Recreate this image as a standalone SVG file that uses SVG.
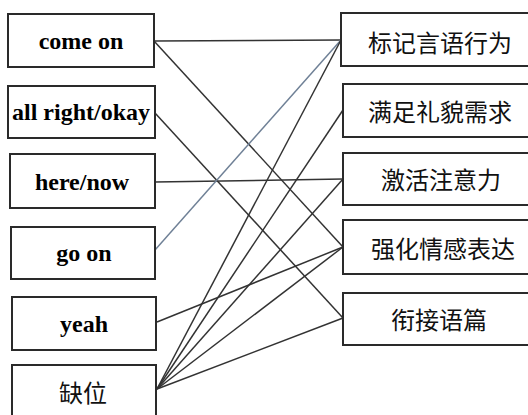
<svg xmlns="http://www.w3.org/2000/svg" width="528" height="415" viewBox="0 0 528 415">
<style>
rect{fill:#fff;stroke:#2a2a2a;stroke-width:2}
.en{font-family:"Liberation Serif","Times New Roman",serif;font-weight:bold;font-size:24px;fill:#000;text-anchor:middle}
.zh{font-family:"Noto Sans CJK SC","Liberation Sans",sans-serif;font-size:24px;fill:#111;text-anchor:middle;dominant-baseline:central}
#connectors line{stroke:#333;stroke-width:1.5}
#connectors line.blue{stroke:#6f8096}
</style>
<rect x="0" y="0" width="528" height="415" style="fill:#fff;stroke:none"/>
<g id="connectors">
<line x1="154" y1="41" x2="341" y2="40"/>
<line x1="154" y1="41" x2="343" y2="247"/>
<line x1="155" y1="113" x2="343" y2="318"/>
<line x1="155" y1="182" x2="343" y2="179"/>
<line class="blue" x1="155" y1="250" x2="341" y2="40"/>
<line x1="157" y1="322" x2="343" y2="247"/>
<line x1="157" y1="389" x2="341" y2="40"/>
<line x1="157" y1="389" x2="343" y2="110"/>
<line x1="157" y1="389" x2="343" y2="179"/>
<line x1="157" y1="389" x2="343" y2="247"/>
<line x1="157" y1="389" x2="343" y2="318"/>
</g>
<g id="come-on"><rect x="8" y="14" width="146" height="53"/><text class="en" x="81" y="49">come on</text></g>
<g id="all-right-okay"><rect x="8" y="86" width="147" height="52"/><text class="en" x="81" y="120">all right/okay</text></g>
<g id="here-now"><rect x="10" y="154" width="145" height="54"/><text class="en" x="82" y="190">here/now</text></g>
<g id="go-on"><rect x="11" y="227" width="144" height="52"/><text class="en" x="84" y="261">go on</text></g>
<g id="yeah"><rect x="12" y="297" width="144" height="53"/><text class="en" x="84" y="332">yeah</text></g>
<g id="quewei"><rect x="12" y="365" width="144" height="60"/><text class="zh" x="83" y="391">缺位</text></g>
<g id="biaoji"><rect x="341" y="13" width="200" height="53"/><text class="zh" x="440" y="41">标记言语行为</text></g>
<g id="manzu"><rect x="343" y="84" width="200" height="53"/><text class="zh" x="440" y="110">满足礼貌需求</text></g>
<g id="jihuo"><rect x="343" y="153" width="200" height="52"/><text class="zh" x="441" y="178">激活注意力</text></g>
<g id="qianghua"><rect x="343" y="220" width="200" height="54"/><text class="zh" x="443" y="247">强化情感表达</text></g>
<g id="xianjie"><rect x="343" y="293" width="200" height="52"/><text class="zh" x="439" y="318">衔接语篇</text></g>
</svg>
